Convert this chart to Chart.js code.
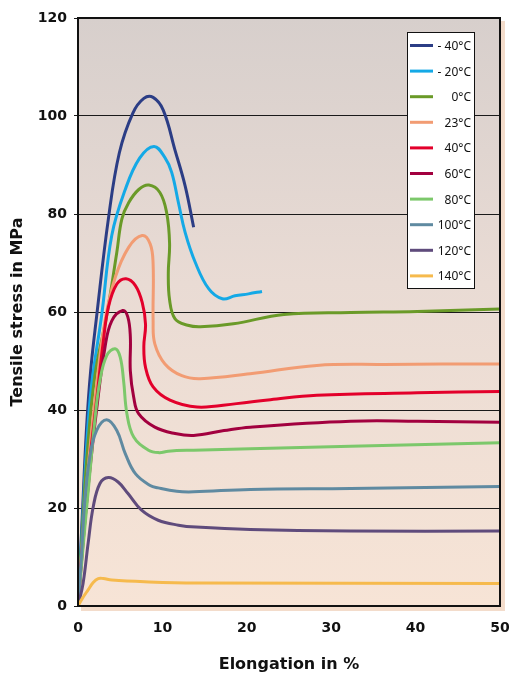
<!DOCTYPE html>
<html><head><meta charset="utf-8">
<script src="https://cdn.jsdelivr.net/npm/chart.js@4/dist/chart.umd.min.js"></script>
<style>html,body{margin:0;padding:0;background:#fff}#wrap{width:509px;height:678px;position:relative}</style>
</head><body><div id="wrap"><canvas id="c"></canvas></div>
<script>
// ---- data ----
const seriesLabels = ['- 40°C','- 20°C','0°C','23°C','40°C','60°C','80°C','100°C','120°C','140°C'];
const seriesColors = ['#2b3d85','#14a9e6','#6a9a28','#f29c73','#e3002b','#a2003f','#7cc86b','#5f8aa1','#5f4b7c','#f6ba4d'];
const xTicks = [0,10,20,30,40,50];
const yTicks = [0,20,40,60,80,100,120];

const sM40 = [[0,0],[0.5,18],[1.0,36],[1.5,48],[2.2,59],[3.6,79],[4.9,92.5],[6.5,100.6],[7.8,103.6],[8.9,103.8],[10.1,101.2],[11.5,93],[12.7,85.7],[13.7,77.3]];
const sM20 = [[0,0],[0.5,16],[1.0,32],[1.6,45],[2.8,59.3],[4.0,75.6],[5.6,85],[7.3,91.4],[9.0,93.8],[10.3,91.5],[11.1,88.5],[11.9,82.3],[12.7,76.2],[13.9,70.1],[15.5,64.7],[17.1,62.7],[18.6,63.3],[20.2,63.7],[21.8,64.2]];
const s0 = [[0,0],[0.5,15],[1.0,29],[2.0,47],[3.4,59.3],[4.6,72.2],[5.2,79],[6.0,82.3],[7.2,85],[8.4,85.9],[9.7,84.4],[10.5,80.3],[10.85,74],[10.7,68],[10.85,62.5],[11.5,58.6],[13,57.3],[14.5,57.0],[18.4,57.6],[24.4,59.5],[32.3,59.9],[40.2,60.1],[50,60.6]];
const s23 = [[0,0],[0.6,15],[1.3,30],[2.2,45],[3.2,58.2],[4.4,67],[6.0,73.2],[7.6,75.6],[8.55,73.9],[8.9,69.8],[8.9,58.2],[9.1,53.5],[10.3,49.4],[12.3,47],[14.5,46.4],[20.4,47.4],[28.3,49.1],[36.3,49.3],[50,49.4]];
const s40 = [[0,0],[0.6,14],[1.3,28],[2.2,42],[3.0,54],[3.6,61],[4.6,65.7],[5.7,66.8],[6.8,65.4],[7.6,62],[8.0,57.5],[7.8,53],[8.0,48.7],[8.9,44.7],[10.9,42],[14.1,40.6],[18.8,41.3],[22.8,42.1],[28.3,43.0],[40.2,43.5],[50,43.8]];
const s60 = [[0,0],[0.6,13],[1.3,26],[2.2,40],[3.2,52.8],[4.0,58.2],[5.3,60.3],[5.9,59],[6.2,55],[6.2,48],[6.6,42.6],[7.2,39.2],[9.1,36.5],[11.5,35.2],[13.7,34.8],[17.3,35.8],[20.4,36.5],[32.3,37.7],[40.2,37.7],[50,37.5]];
const s80 = [[0,0],[0.6,12],[1.4,27],[2.0,38],[2.6,46],[3.4,51.1],[4.4,52.5],[5.0,50.8],[5.4,46],[5.8,39.2],[6.6,34.5],[8.35,31.8],[9.6,31.3],[10.7,31.6],[13.7,31.8],[20.4,32.1],[32.3,32.6],[50,33.3]];
const s100 = [[0,0],[0.4,10],[0.83,22],[1.4,30.4],[2.2,35.8],[3.4,38],[4.6,35.8],[5.6,31.1],[6.8,27],[8.55,24.6],[9.5,24.1],[11.7,23.4],[13.7,23.3],[20.4,23.8],[32.3,24.0],[50,24.4]];
const s120 = [[0,0],[0.6,4.6],[1.2,12.8],[1.8,20.2],[2.6,25],[3.6,26.2],[4.75,25.3],[5.9,23],[7.5,19.6],[9.5,17.5],[11.9,16.5],[14,16.1],[20.4,15.6],[32.3,15.3],[50,15.3]];
const s140 = [[0,0],[0.5,1.5],[1.2,3.3],[1.8,4.8],[2.4,5.6],[3,5.6],[4.0,5.3],[7.9,4.95],[14,4.7],[50,4.6]];
const seriesData = [sM40,sM20,s0,s23,s40,s60,s80,s100,s120,s140];

// ---- plugins ----
const bgPlugin = {
  id:'bg',
  beforeDraw(chart){
    const {ctx, chartArea:a} = chart;
    ctx.save();
    ctx.fillStyle = '#f3dccb';
    ctx.fillRect(a.left+3, a.top+3, a.right-a.left+2, a.bottom-a.top+2);
    const g = ctx.createLinearGradient(0,a.top,0,a.bottom);
    g.addColorStop(0,'#d7cfcc');
    g.addColorStop(0.45,'#e9dbd4');
    g.addColorStop(1,'#f7e4d6');
    ctx.fillStyle = g;
    ctx.fillRect(a.left, a.top, a.right-a.left, a.bottom-a.top);
    ctx.restore();
  }
};
const framePlugin = {
  id:'frame',
  afterDatasetsDraw(chart){
    const {ctx, chartArea:a} = chart;
    ctx.save();
    ctx.strokeStyle = '#111';
    ctx.lineWidth = 2;
    ctx.strokeRect(a.left, a.top, a.right-a.left, a.bottom-a.top);
    ctx.restore();
  }
};
const legendPlugin = {
  id:'boxLegend',
  afterDraw(chart){
    const ctx = chart.ctx;
    const x0 = 407.5, y0 = 32.5, w = 67, h = 256;
    ctx.save();
    ctx.fillStyle = '#fff';
    ctx.fillRect(x0, y0, w, h);
    ctx.strokeStyle = '#111';
    ctx.lineWidth = 1;
    ctx.strokeRect(x0, y0, w, h);
    ctx.font = '12px "Noto Sans"';
    ctx.textAlign = 'right';
    ctx.textBaseline = 'middle';
    seriesLabels.forEach((lab,i)=>{
      const y = 45.5 + i*25.6;
      ctx.strokeStyle = seriesColors[i];
      ctx.lineWidth = 3;
      ctx.beginPath(); ctx.moveTo(410, y); ctx.lineTo(433, y); ctx.stroke();
      ctx.fillStyle = '#111';
      ctx.fillText(lab, 471, y+1);
    });
    ctx.restore();
  }
};

const datasets = seriesData.map((arr,i)=>({
  label: seriesLabels[i],
  data: arr.map(p=>({x:p[0],y:p[1]})),
  borderColor: seriesColors[i],
  backgroundColor: seriesColors[i],
  borderWidth: 3,
  pointRadius: 0,
  showLine: true,
  tension: 0.4,
  fill: false
})).reverse();

const tickFont = {family:'"DejaVu Sans"', size:14, weight:'bold'};
new Chart(document.getElementById('c'), {
  type:'scatter',
  data:{datasets},
  options:{
    responsive:true, maintainAspectRatio:false, animation:false,
    layout:{padding:{top:18,right:9,left:0,bottom:0}},
    plugins:{legend:{display:false}, tooltip:{enabled:false}},
    scales:{
      x:{
        type:'linear', min:xTicks[0], max:xTicks[xTicks.length-1],
        afterBuildTicks(s){ s.ticks = xTicks.map(v=>({value:v})); },
        afterFit(s){ s.height = 72; s.paddingLeft = 0; s.paddingRight = 0; },
        grid:{display:false}, border:{display:false},
        ticks:{font:tickFont, color:'#111', padding:6, maxRotation:0},
        title:{display:true, text:'Elongation in %', font:{family:'"DejaVu Sans"', size:16, weight:'bold'}, color:'#111', padding:{top:0,bottom:4}}
      },
      y:{
        type:'linear', min:yTicks[0], max:yTicks[yTicks.length-1],
        afterBuildTicks(s){ s.ticks = yTicks.map(v=>({value:v})); },
        afterFit(s){ s.width = 78; s.paddingTop = 0; s.paddingBottom = 0; },
        grid:{color:'#1a1a1a', lineWidth:1, tickLength:4, drawTicks:true},
        border:{display:false},
        ticks:{font:tickFont, color:'#111', padding:7},
        title:{display:true, text:'Tensile stress in MPa', font:{family:'"DejaVu Sans"', size:16, weight:'bold'}, color:'#111', padding:{top:8,bottom:0}}
      }
    }
  },
  plugins:[bgPlugin, framePlugin, legendPlugin]
});
</script></body></html>
